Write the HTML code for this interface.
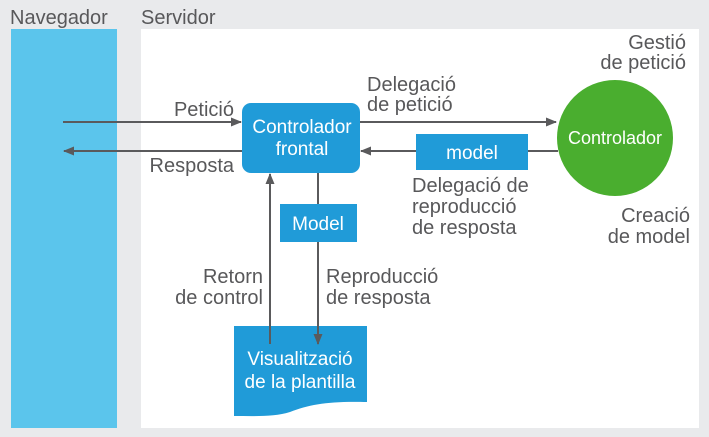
<!DOCTYPE html>
<html><head><meta charset="utf-8"><style>
html,body{margin:0;padding:0;background:#e9eaec;}
svg{display:block;}
text{font-family:"Liberation Sans",sans-serif;}
</style></head><body>
<svg width="709" height="437" viewBox="0 0 709 437" xmlns="http://www.w3.org/2000/svg">
<defs>
<marker id="a" markerWidth="11" markerHeight="11" refX="10" refY="5.5" orient="auto" markerUnits="userSpaceOnUse">
<path d="M0,1 L11,5.5 L0,10 z" fill="#5a5a5c"/>
</marker>
</defs>
<rect x="0" y="0" width="709" height="437" fill="#e9eaec"/>
<rect x="11" y="29" width="106" height="399" fill="#5bc5ec"/>
<rect x="141" y="29" width="558" height="399" fill="#ffffff"/>
<g font-size="20" fill="#58585a">
<text x="10" y="24">Navegador</text>
<text x="141" y="24">Servidor</text>
</g>
<path d="M234,326 H367 V402 C330,401 310,404 290,412 C275,417 255,416 234,416 Z" fill="#209bd8"/>
<g stroke="#5a5a5c" stroke-width="2" fill="none">
<line x1="63" y1="122" x2="241" y2="122" marker-end="url(#a)"/>
<line x1="242" y1="151" x2="64" y2="151" marker-end="url(#a)"/>
<line x1="360" y1="122" x2="556" y2="122" marker-end="url(#a)"/>
<line x1="558" y1="151" x2="361" y2="151" marker-end="url(#a)"/>
<line x1="270" y1="344" x2="270" y2="174" marker-end="url(#a)"/>
<line x1="318" y1="173" x2="318" y2="344" marker-end="url(#a)"/>
</g>
<rect x="242" y="103" width="118" height="70" rx="9" fill="#209bd8"/>
<rect x="280" y="204" width="77" height="38" fill="#209bd8"/>
<rect x="416" y="134" width="112" height="36" fill="#209bd8"/>
<circle cx="615" cy="138" r="58" fill="#4aae2f"/>
<g font-size="19" fill="#ffffff" text-anchor="middle">
<text x="302" y="133">Controlador</text>
<text x="302" y="155">frontal</text>
<text x="318" y="230">Model</text>
<text x="472" y="159">model</text>
<text x="615" y="144" font-size="18">Controlador</text>
<text x="300" y="365">Visualització</text>
<text x="300" y="388">de la plantilla</text>
</g>
<g font-size="20" fill="#58585a">
<text x="234" y="116" text-anchor="end">Petició</text>
<text x="234" y="172" text-anchor="end">Resposta</text>
<text x="367" y="91">Delegació</text>
<text x="367" y="111">de petició</text>
<text x="686" y="49" text-anchor="end">Gestió</text>
<text x="686" y="69" text-anchor="end">de petició</text>
<text x="412" y="192">Delegació de</text>
<text x="412" y="213">reproducció</text>
<text x="412" y="234">de resposta</text>
<text x="690" y="222" text-anchor="end">Creació</text>
<text x="690" y="243" text-anchor="end">de model</text>
<text x="263" y="283" text-anchor="end">Retorn</text>
<text x="263" y="304" text-anchor="end">de control</text>
<text x="326" y="283">Reproducció</text>
<text x="326" y="304">de resposta</text>
</g>
</svg>
</body></html>
